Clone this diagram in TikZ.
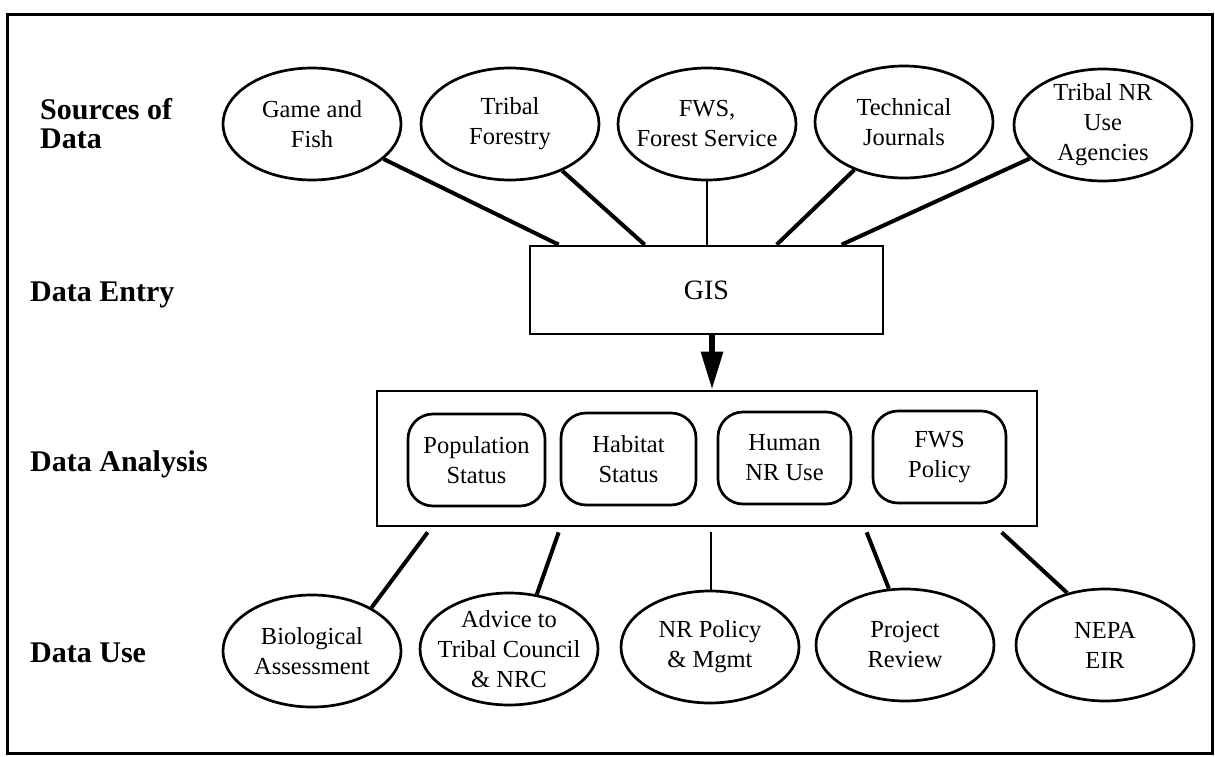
\documentclass[tikz,border=0pt]{standalone}
\usepackage{fontspec}
\setmainfont{Liberation Serif}
\usetikzlibrary{shapes.geometric,calc,arrows.meta}
\begin{document}
\begin{tikzpicture}[x=1pt,y=-1pt,
  src/.style={draw, ellipse, line width=2.7pt, minimum width=178pt, minimum height=112pt, inner sep=0pt},
  txt/.style={align=center, font=\fontsize{24.5}{30}\selectfont, inner sep=0pt},
  lbl/.style={anchor=west, align=left, font=\fontsize{30}{29}\selectfont\bfseries, inner sep=0pt},
  boxed/.style={draw, line width=2.7pt, inner sep=0pt},
  pill/.style={draw, rounded corners=25pt, line width=2.7pt, minimum height=92pt, inner sep=0pt, align=center, font=\fontsize{24.5}{30}\selectfont},
  conn/.style={line width=4pt},
  vconn/.style={line width=2.2pt}
]
\useasboundingbox (0,0) rectangle (1215,757);
\draw[line width=3pt] (7,15) rectangle (1212,753);

% row labels
\node[lbl] (lsrc) at (40,124) {Sources of\\Data};
\node[lbl] (lent) at (30,295) {Data Entry};
\node[lbl] (lana) at (30,464) {Data Analysis};
\node[lbl] (luse) at (30,653) {Data Use};

% sources of data
\node[src] (s1) at (312,124) {};
\node[txt] (s1t) at (s1) {Game and\\Fish};
\node[src] (s2) at (510,124) {};
\node[txt] (s2t) at (s2) {Tribal\\Forestry};
\node[src] (s3) at (707,124) {};
\node[txt] (s3t) at (s3) {FWS,\\Forest Service};
\node[src] (s4) at (904,122) {};
\node[txt] (s4t) at (s4) {Technical\\Journals};
\node[src] (s5) at (1103,125) {};
\node[txt] (s5t) at (s5) {Tribal NR\\Use\\Agencies};

% GIS
\node[boxed, minimum width=353pt, minimum height=88pt, font=\fontsize{28}{30}\selectfont] (gis) at (706.5,290) {GIS};

\coordinate (t1) at ($(gis.north west)+(30,0)$);
\coordinate (t2) at ($(gis.north west)+(116,0)$);
\coordinate (t3) at (s3 |- gis.north);
\coordinate (t4) at ($(gis.north west)+(248,0)$);
\coordinate (t5) at ($(gis.north west)+(313,0)$);
\draw[conn] (s1) -- (t1);
\draw[conn] (s2) -- (t2);
\draw[vconn] (s3) -- (t3);
\draw[conn] (s4) -- (t4);
\draw[conn] (s5) -- (t5);

% analysis
\node[boxed, minimum width=660pt, minimum height=135pt] (ana) at (707,458.5) {};
\node[pill, minimum width=137pt] (p1) at (476.5,460) {Population\\Status};
\node[pill, minimum width=135pt] (p2) at (628.5,459) {Habitat\\Status};
\node[pill, minimum width=133pt] (p3) at (784.5,458) {Human\\NR Use};
\node[pill, minimum width=133pt] (p4) at (939.5,457) {FWS\\Policy};

\draw[line width=6pt, -{Triangle[length=38pt,width=21pt]}] ($(gis.south)+(5.5,0)$) -- ($(ana.north)+(5,0)$);

% data use
\node[src] (d1) at (312,651) {};
\node[txt] (d1t) at (d1) {Biological\\Assessment};
\node[src] (d2) at (509,649) {};
\node[txt] (d2t) at (d2) {Advice to\\Tribal Council\\\& NRC};
\node[src] (d3) at (710,647) {};
\node[txt] (d3t) at (d3) {NR Policy\\\& Mgmt};
\node[src] (d4) at (905,645) {};
\node[txt] (d4t) at (d4) {Project\\Review};
\node[src] (d5) at (1105,645) {};
\node[txt] (d5t) at (d5) {NEPA\\EIR};

\coordinate (b1) at ($(ana.south west)+(52,5)$);
\coordinate (b2) at ($(ana.south west)+(183,5)$);
\coordinate (b3) at ($(ana.south west)+(335,5)$);
\coordinate (b4) at ($(ana.south west)+(491,5)$);
\coordinate (b5) at ($(ana.south west)+(626,5)$);
\draw[conn] (b1) -- (d1.36);
\draw[conn] (b2) -- (d2.63);
\draw[vconn] (b3) -- (b3 |- d3.north);
\draw[conn] (b4) -- (d4.106);
\draw[conn] (b5) -- (d5.126);
\end{tikzpicture}
\end{document}
